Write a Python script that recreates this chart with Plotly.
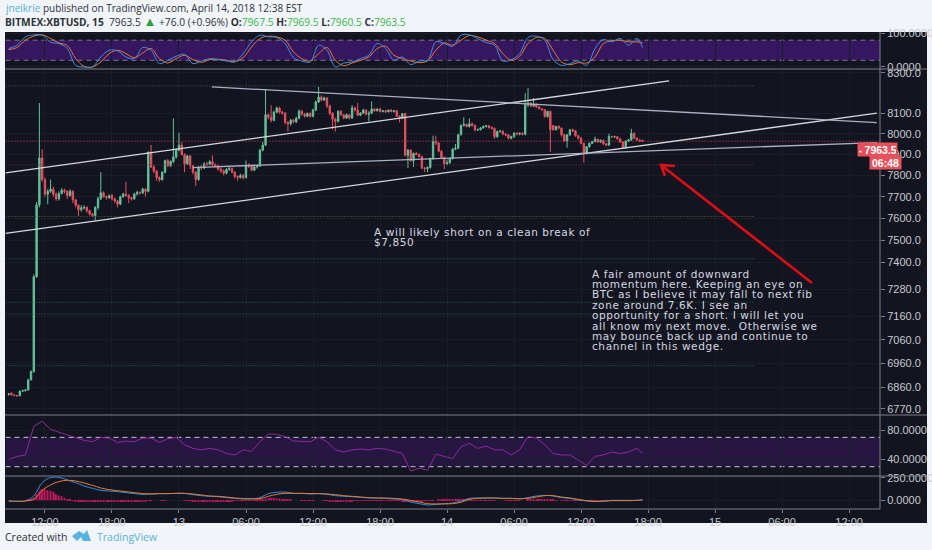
import pandas as pd
import plotly.graph_objects as go
from plotly.subplots import make_subplots

WIDTH = 932
HEIGHT = 550

opens = [
    6830, 6835, 6828, 6825, 6824, 6843, 6845, 6848, 6890, 6925,
    7335, 7662, 7883, 7780, 7712, 7725, 7735, 7710, 7690, 7715,
    7730, 7725, 7705, 7725, 7685, 7660, 7640, 7648, 7650, 7635,
    7620, 7612, 7650, 7690, 7718, 7700, 7695, 7705, 7690, 7680,
    7665, 7700, 7712, 7705, 7695, 7690, 7712, 7720, 7718, 7735,
    7725, 7910, 7840, 7820, 7790, 7780, 7815, 7870, 7845, 7866,
    7888, 7920, 7945, 7900, 7855, 7892, 7846, 7815, 7780, 7840,
    7835, 7855, 7852, 7865, 7850, 7845, 7830, 7822, 7810, 7828,
    7832, 7815, 7795, 7790, 7800, 7790, 7850, 7845, 7825, 7840,
    7845, 7920, 7945, 8092, 8080, 8065, 8105, 8125, 8105, 8100,
    8055, 8048, 8065, 8058, 8075, 8110, 8095, 8085, 8098, 8085,
    8115, 8155, 8180, 8165, 8175, 8135, 8100, 8070, 8060, 8109,
    8092, 8076, 8092, 8076, 8125, 8115, 8090, 8100, 8115, 8095,
    8100, 8120, 8112, 8120, 8108, 8112, 8107, 8115, 8108, 8112,
    8085, 8075, 8098, 7896, 7920, 7870, 7905, 7900, 7890, 7835,
    7832, 7838, 7880, 7962, 7955, 7915, 7885, 7855, 7860, 7880,
    7925, 7930, 7995, 8040, 8045, 8035, 8048, 8040, 8018, 8020,
    8028, 8035, 8038, 8030, 8025, 7985, 8010, 8012, 7998, 7994,
    7978, 7985, 8002, 7998, 8002, 7997, 8142, 8150, 8135, 8145,
    8130, 8122, 8117, 8084, 8109, 8040, 8019, 8035, 8027, 7994,
    7964, 7994, 8019, 8014, 7990, 7978, 7953, 7904, 7937, 7953,
    7961, 7973, 7960, 7968, 7950, 7945, 7986, 7984, 7985, 7975,
    7960, 7932, 7964, 7970, 8002, 7978, 7969, 7967.5,
]
closes = [
    6832, 6828, 6825, 6824, 6843, 6845, 6848, 6890, 6925, 7335,
    7662, 7883, 7780, 7712, 7725, 7735, 7710, 7690, 7715, 7730,
    7725, 7705, 7725, 7685, 7660, 7640, 7648, 7650, 7635, 7620,
    7612, 7650, 7690, 7718, 7700, 7695, 7705, 7690, 7680, 7665,
    7700, 7712, 7705, 7695, 7690, 7712, 7720, 7718, 7735, 7725,
    7910, 7840, 7820, 7790, 7780, 7815, 7870, 7845, 7866, 7888,
    7920, 7945, 7900, 7855, 7892, 7846, 7815, 7780, 7840, 7835,
    7855, 7852, 7865, 7850, 7845, 7830, 7822, 7810, 7828, 7832,
    7815, 7795, 7790, 7800, 7790, 7850, 7845, 7825, 7840, 7845,
    7920, 7945, 8092, 8080, 8065, 8105, 8125, 8105, 8100, 8055,
    8048, 8065, 8058, 8075, 8110, 8095, 8085, 8098, 8085, 8115,
    8155, 8180, 8165, 8175, 8135, 8100, 8070, 8060, 8109, 8092,
    8076, 8092, 8076, 8125, 8115, 8090, 8100, 8115, 8095, 8100,
    8120, 8112, 8120, 8108, 8112, 8107, 8115, 8108, 8112, 8085,
    8075, 8098, 7896, 7920, 7870, 7905, 7900, 7890, 7835, 7832,
    7838, 7880, 7962, 7955, 7915, 7885, 7855, 7860, 7880, 7925,
    7930, 7995, 8040, 8045, 8035, 8048, 8040, 8018, 8020, 8028,
    8035, 8038, 8030, 8025, 7985, 8010, 8012, 7998, 7994, 7978,
    7985, 8002, 7998, 8002, 7997, 8142, 8150, 8135, 8145, 8130,
    8122, 8117, 8084, 8109, 8019, 8019, 8035, 8027, 7994, 7964,
    7994, 8019, 8014, 7990, 7978, 7953, 7904, 7937, 7953, 7961,
    7973, 7960, 7968, 7950, 7945, 7986, 7984, 7985, 7975, 7960,
    7932, 7964, 7970, 8002, 7978, 7969, 7964, 7963.5,
]
highs = [
    6835, 6838, 6830, 6828, 6846, 6850, 6852, 6895, 6930, 7345,
    7675, 8150, 7925, 7790, 7735, 7780, 7745, 7720, 7725, 7740,
    7738, 7730, 7735, 7730, 7690, 7665, 7660, 7660, 7655, 7640,
    7625, 7655, 7700, 7815, 7725, 7705, 7710, 7712, 7695, 7685,
    7705, 7718, 7770, 7712, 7700, 7718, 7728, 7725, 7742, 7740,
    7915, 7945, 7850, 7825, 7795, 7820, 7875, 7878, 7872, 8075,
    7930, 8005, 7960, 7905, 7898, 7898, 7850, 7820, 7845, 7850,
    7862, 7865, 7872, 7895, 7858, 7852, 7838, 7828, 7835, 7845,
    7838, 7820, 7800, 7808, 7806, 7870, 7858, 7850, 7848, 7852,
    7928, 7960, 8220, 8098, 8140, 8112, 8132, 8132, 8112, 8105,
    8060, 8072, 8072, 8082, 8118, 8116, 8102, 8104, 8104, 8122,
    8162, 8230, 8188, 8182, 8180, 8142, 8105, 8078, 8115, 8115,
    8096, 8098, 8096, 8140, 8132, 8150, 8105, 8122, 8120, 8110,
    8158, 8126, 8124, 8126, 8115, 8116, 8118, 8120, 8114, 8116,
    8090, 8082, 8102, 7925, 7925, 7908, 7912, 7905, 7893, 7840,
    7842, 7885, 7990, 7990, 7958, 7920, 7890, 7875, 7885, 7930,
    7950, 8000, 8045, 8080, 8050, 8075, 8055, 8045, 8025, 8032,
    8040, 8042, 8042, 8035, 8030, 8015, 8018, 8016, 8002, 7998,
    7990, 8008, 8006, 8006, 8006, 8199, 8224, 8155, 8174, 8148,
    8135, 8125, 8120, 8112, 8112, 8042, 8038, 8040, 8030, 8000,
    7998, 8022, 8024, 8018, 7994, 7982, 7956, 7940, 7958, 7965,
    7986, 7976, 7972, 7970, 7955, 8000, 7990, 7990, 7988, 7978,
    7962, 7968, 7975, 8024, 8006, 7982, 7972, 7969.5,
]
lows = [
    6825, 6825, 6822, 6820, 6822, 6840, 6842, 6845, 6888, 6920,
    7330, 7650, 7770, 7700, 7665, 7718, 7700, 7680, 7682, 7710,
    7715, 7690, 7700, 7670, 7650, 7610, 7630, 7640, 7625, 7612,
    7605, 7590, 7640, 7685, 7695, 7685, 7690, 7682, 7672, 7650,
    7660, 7695, 7700, 7670, 7682, 7685, 7705, 7710, 7712, 7700,
    7720, 7835, 7810, 7775, 7770, 7775, 7810, 7840, 7840, 7860,
    7880, 7915, 7895, 7815, 7850, 7830, 7805, 7750, 7775, 7825,
    7830, 7845, 7848, 7845, 7838, 7822, 7812, 7800, 7805, 7822,
    7810, 7785, 7775, 7785, 7780, 7785, 7835, 7818, 7820, 7832,
    7840, 7915, 7940, 8070, 8055, 8060, 8100, 8098, 8092, 8045,
    8010, 8040, 8050, 8052, 8070, 8088, 8078, 8080, 8078, 8080,
    8110, 8150, 8158, 8160, 8125, 8090, 8020, 8010, 8055, 8088,
    8070, 8072, 8070, 8072, 8108, 8085, 8086, 8096, 8090, 8060,
    8095, 8106, 8108, 8104, 8104, 8102, 8104, 8104, 8104, 8080,
    8055, 8072, 7890, 7835, 7865, 7840, 7895, 7885, 7830, 7815,
    7815, 7832, 7875, 7945, 7910, 7880, 7830, 7850, 7855, 7875,
    7920, 7925, 7990, 8035, 8030, 8030, 8035, 8012, 8012, 8015,
    8024, 8030, 8025, 8020, 7975, 7980, 8005, 7992, 7988, 7972,
    7972, 7980, 7992, 7992, 7992, 7992, 8130, 8130, 8130, 8125,
    8118, 8112, 8078, 8078, 7912, 8014, 8015, 8022, 7985, 7960,
    7932, 7990, 8008, 7985, 7972, 7948, 7860, 7900, 7932, 7950,
    7958, 7955, 7955, 7945, 7940, 7940, 7980, 7980, 7970, 7955,
    7928, 7928, 7960, 7965, 7974, 7965, 7960, 7960.5,
]

# oscillators are read every third candle, plus the last one
stoch_k = [
    55, 65, 90, 96, 95, 74, 70, 55, 5, 0, 0, 30, 50, 48, 30, 25, 58, 50, 10, 20,
    32, 38, 10, 18, 25, 22, 18, 15, 40, 75, 95, 90, 88, 70, 28, 18, 15, 65, 50, 0,
    12, 15, 25, 35, 70, 55, 20, 30, 7, 18, 20, 75, 70, 62, 95, 96, 85, 73, 65, 18,
    22, 40, 88, 92, 80, 22, 5, 10, 18, 5, 55, 82, 75, 85, 65, 85, 58,
]
stoch_d = [
    52, 58, 80, 92, 96, 85, 72, 64, 25, 2, 0, 15, 40, 50, 40, 28, 42, 55, 25, 12,
    25, 35, 22, 14, 22, 23, 20, 16, 28, 60, 85, 92, 90, 80, 45, 25, 18, 40, 58, 20,
    4, 12, 20, 30, 55, 62, 35, 25, 18, 13, 18, 50, 72, 65, 80, 94, 90, 80, 70, 40,
    20, 32, 70, 88, 85, 50, 15, 7, 13, 12, 30, 70, 78, 80, 75, 75, 72,
]
rsi = [
    40, 44, 46, 85, 92, 81, 77, 73, 69, 66, 64, 70, 69, 63, 65, 64, 69, 69, 63, 68,
    70, 60, 55, 53, 55, 53, 48, 46, 53, 51, 64, 75, 74, 71, 65, 65, 64, 70, 64, 53,
    50, 53, 54, 53, 55, 54, 51, 48, 24, 28, 25, 47, 44, 41, 57, 62, 55, 58, 53, 53,
    46, 53, 71, 69, 60, 48, 46, 46, 39, 32, 44, 46, 50, 48, 50, 55, 48,
]
macd_line = [
    -7, -11, -7, 48, 198, 254, 257, 228, 198, 160, 134, 112, 104, 97, 86, 75, 67, 71, 75, 75,
    78, 78, 63, 52, 45, 41, 30, 22, 15, 15, 30, 75, 90, 93, 78, 78, 71, 75, 67, 52,
    45, 41, 34, 26, 26, 22, 15, 7, -19, -37, -52, -45, -37, -30, -7, 22, 26, 26, 26, 22,
    22, 15, 30, 48, 56, 48, 30, 22, 4, -7, -15, -7, 0, 0, 0, 0, 7,
]
macd_signal = [
    -7, -11, -7, 11, 112, 172, 209, 224, 216, 194, 168, 138, 119, 108, 97, 86, 75, 71, 75, 75,
    78, 78, 71, 60, 48, 45, 37, 26, 19, 19, 19, 45, 67, 78, 78, 78, 75, 75, 71, 63,
    52, 45, 37, 30, 26, 26, 22, 15, 0, -19, -37, -41, -41, -37, -22, 11, 22, 26, 26, 22,
    22, 19, 22, 37, 52, 52, 37, 26, 11, -4, -11, -11, -4, -4, -4, 0, 4,
]
macd_hist = [
    0, 0, 0, 0, 0, 0, 0, 5, 15, 30,
    67, 100, 123, 125, 112, 105, 97, 67, 55, 45,
    30, 15, 8, -3, -8, -10, -10, -12, -12, -12,
    -12, -12, -12, -12, -12, -12, -12, -12, -10, -10,
    -10, -10, -10, -10, -10, -10, -8, -8, -8, -8,
    -5, -3, 0, 0, 0, 3, 3, 0, 0, 0,
    0, 0, 0, -3, -5, -5, -8, -8, -8, -8,
    -8, -8, -8, -8, -8, -8, -8, -8, -8, -8,
    -8, -6, -6, -6, -5, -5, -3, -3, 5, 8,
    12, 16, 20, 24, 26, 26, 24, 20, 16, 12,
    8, 5, 0, 0, 0, -3, -6, -6, -6, -3,
    0, 0, 0, -3, -6, -8, -8, -8, -8, -8,
    -8, -8, -8, -8, -6, -6, -6, -6, -5, -5,
    -3, -3, -3, -3, -3, -3, -3, -3, -3, -3,
    -5, -8, -10, -10, -10, -10, -10, -8, -8, -6,
    -6, -5, -3, 0, 5, 8, 8, 8, 8, 8,
    8, 6, 6, 6, 5, 5, 3, 3, 3, 3,
    3, 3, 3, 3, 3, 0, 0, 0, -3, -3,
    -3, -3, -3, -3, 0, 0, 5, 8, 10, 12,
    12, 10, 8, 8, 5, 5, 3, 0, -3, -3,
    -5, -5, -5, -3, -3, -3, -3, -3, -3, -3,
    -3, -3, -3, -3, -3, -3, -3, -3, -3, 0,
    0, 0, 0, 0, 0, 0, 0, 0,
]

# drawings on the price pane
fib_prices = [8235, 7850, 7608, 7415, 7222, 7171, 6950]
fib_colors = ["#5b5f4e", "#6b2f3a", "#5f6b2a", "#2f6b3a", "#2a6b45", "#2a6b45", "#1f6b5a"]
trend_times = [
    ["2018-04-12 08:28", "2018-04-14 19:53"],
    ["2018-04-12 08:28", "2018-04-15 14:29"],
    ["2018-04-13 02:56", "2018-04-15 14:29"],
    ["2018-04-13 01:14", "2018-04-15 14:29"],
]
trend_prices = [[7812, 8260], [7530, 8100], [8230, 8054], [7837, 7957]]
trend_colors = ["#d5d8dd", "#d5d8dd", "#aab0c4", "#aab0c4"]

tick_times = [
    "2018-04-12 12:00", "2018-04-12 18:00", "2018-04-13 00:00", "2018-04-13 06:00",
    "2018-04-13 12:00", "2018-04-13 18:00", "2018-04-14 00:00", "2018-04-14 06:00",
    "2018-04-14 12:00", "2018-04-14 18:00", "2018-04-15 00:00", "2018-04-15 06:00",
    "2018-04-15 12:00",
]
tick_labels = ["12:00", "18:00", "13", "06:00", "12:00", "18:00", "14", "06:00",
               "12:00", "18:00", "15", "06:00", "12:00"]
price_ticks = [8300, 8100, 8000, 7900, 7800, 7700, 7600, 7500, 7400, 7280, 7160, 7060, 6960, 6860, 6770]

note_short = ["A will likely short on a clean break of", "$7,850"]
note_long = [
    "A fair amount of downward",
    "momentum here. Keeping an eye on",
    "BTC as I believe it may fall to next fib",
    "zone around 7.6K. I see an",
    "opportunity for a short. I will let you",
    "all know my next move.&nbsp; Otherwise we",
    "may bounce back up and continue to",
    "channel in this wedge.",
]

BG = "#12151f"
PAGE = "#f1f4f9"
FRAME = "#7d8087"
GRID = "#191d28"
AXIS_TEXT = "#c6c9cf"
UP = "#63c29a"
DOWN = "#e9505f"
X_RANGE = ["2018-04-12 08:28", "2018-04-15 14:46"]


def px_x(x):
    return x / WIDTH


def px_y(y):
    return 1 - y / HEIGHT


candle_times = pd.date_range("2018-04-12 08:45", periods=len(closes), freq="15min")
osc_times = list(candle_times[::3]) + [candle_times[-1]]

fig = make_subplots(rows=4, cols=1, shared_xaxes=True, vertical_spacing=0)

# stochastic pane
fig.add_trace(go.Scatter(x=osc_times, y=stoch_d, mode="lines", line=dict(color="#e5793a", width=1, shape="spline")), row=1, col=1)
fig.add_trace(go.Scatter(x=osc_times, y=stoch_k, mode="lines", line=dict(color="#3f8fe0", width=1, shape="spline")), row=1, col=1)

# price pane
for price, color in zip(fib_prices, fib_colors):
    fig.add_trace(go.Scatter(x=[X_RANGE[0], "2018-04-15 03:35"], y=[price, price], mode="lines",
                             line=dict(color=color, width=1, dash="1px,2px")), row=2, col=1)
fig.add_trace(go.Scatter(x=X_RANGE, y=[closes[-1], closes[-1]], mode="lines",
                         line=dict(color="#d8404f", width=1, dash="1px,2px")), row=2, col=1)
fig.add_trace(go.Candlestick(x=candle_times, open=opens, high=highs, low=lows, close=closes,
                             increasing=dict(line=dict(color=UP, width=1), fillcolor=UP),
                             decreasing=dict(line=dict(color=DOWN, width=1), fillcolor=DOWN)), row=2, col=1)
for times, prices, color in zip(trend_times, trend_prices, trend_colors):
    fig.add_trace(go.Scatter(x=times, y=prices, mode="lines", line=dict(color=color, width=1.3)), row=2, col=1)

# rsi pane
fig.add_trace(go.Scatter(x=osc_times, y=rsi, mode="lines", line=dict(color="#8e2a9e", width=1)), row=3, col=1)

# macd pane
fig.add_trace(go.Bar(x=candle_times, y=macd_hist, marker=dict(color="#c2185b", line_width=0)), row=4, col=1)
fig.add_trace(go.Scatter(x=osc_times, y=macd_line, mode="lines", line=dict(color="#2f8fd8", width=1, shape="spline")), row=4, col=1)
fig.add_trace(go.Scatter(x=osc_times, y=macd_signal, mode="lines", line=dict(color="#e5793a", width=1, shape="spline")), row=4, col=1)

shapes = [
    dict(type="rect", xref="paper", yref="paper", x0=px_x(5), x1=px_x(927), y0=px_y(523), y1=px_y(32),
         fillcolor=BG, line_width=0, layer="below"),
    # purple bands
    dict(type="rect", xref="x", yref="y", x0=X_RANGE[0], x1=X_RANGE[1], y0=20, y1=80,
         fillcolor="#371660", line_width=0, layer="below"),
    dict(type="rect", xref="x3", yref="y3", x0=X_RANGE[0], x1=X_RANGE[1], y0=30, y1=70,
         fillcolor="#261641", line_width=0, layer="below"),
]
for yref, level, color in [("y", 80, "#7f7390"), ("y", 20, "#7f7390"), ("y3", 70, "#c8c2d6"), ("y3", 30, "#c8c2d6")]:
    xref = "x" if yref == "y" else "x3"
    shapes.append(dict(type="line", xref=xref, yref=yref, x0=X_RANGE[0], x1=X_RANGE[1], y0=level, y1=level,
                       line=dict(color=color, width=1, dash="5px,4px"), layer="below"))
# pane frame
for y in [69, 415, 476, 509]:
    x1 = 927 if y != 509 else 880
    shapes.append(dict(type="line", xref="paper", yref="paper", x0=px_x(5), x1=px_x(x1), y0=px_y(y), y1=px_y(y),
                       line=dict(color=FRAME, width=1)))
shapes.append(dict(type="line", xref="paper", yref="paper", x0=px_x(880), x1=px_x(880), y0=px_y(32), y1=px_y(509),
                   line=dict(color=FRAME, width=1)))
# red arrow drawn on the chart
shapes.append(dict(type="path", xref="paper", yref="paper",
                   path=f"M{px_x(812)},{px_y(283)} L{px_x(661)},{px_y(165)} M{px_x(675)},{px_y(166)} "
                        f"L{px_x(661)},{px_y(165)} L{px_x(665)},{px_y(176)}",
                   line=dict(color="#dc0f14", width=2.6)))
# logo in the footer
shapes.append(dict(type="path", xref="paper", yref="paper",
                   path=f"M{px_x(72)},{px_y(536)} L{px_x(79)},{px_y(531)} L{px_x(84)},{px_y(534)} L{px_x(87)},{px_y(530)} "
                        f"L{px_x(91)},{px_y(541)} L{px_x(83)},{px_y(541)} L{px_x(81)},{px_y(537)} L{px_x(77)},{px_y(541)} Z",
                   fillcolor="#56b3e2", line_width=0))

annotations = []


def add_text(x, y, text, size, color, family="Open Sans", anchor="left"):
    annotations.append(dict(xref="paper", yref="paper", x=px_x(x), y=px_y(y), text=text, showarrow=False,
                            xanchor=anchor, yanchor="middle", align="left",
                            font=dict(family=family, size=size, color=color)))


add_text(3, 8, '<span style="color:#4fb0de">jneikrie</span> published on TradingView.com, April 14, 2018 12:38 EST', 10, "#2d3138")
add_text(3, 21, '<b>BITMEX:XBTUSD, 15</b>&nbsp; 7963.5 <span style="color:#2e9e3f;font-size:13px">▲</span> +76.0 (+0.96%) '
                '<b>O:</b><span style="color:#35b84b">7967.5</span> <b>H:</b><span style="color:#35b84b">7969.5</span> '
                '<b>L:</b><span style="color:#35b84b">7960.5</span> <b>C:</b><span style="color:#35b84b">7963.5</span>', 10.2, "#2d3138")
add_text(3, 537, "Created with", 10.5, "#2d3138")
add_text(95, 537, "TradingView", 10.5, "#59b3df")

# the notes are wide and tightly leaded in the picture
for i, line in enumerate(note_short):
    add_text(372, 232 + i * 10.2, f'<span style="letter-spacing:0.6px">{line}</span>', 10.5, "#d5d8e0", family="DejaVu Sans")
for i, line in enumerate(note_long):
    add_text(590, 273.5 + i * 10.4, f'<span style="letter-spacing:0.6px">{line}</span>', 10.5, "#d5d8e0", family="DejaVu Sans")

# last price and countdown tags
annotations.append(dict(xref="paper", yref="paper", x=px_x(898), y=px_y(141.5), text="<b>- 7963.5</b>", showarrow=False,
                        width=37, height=11, bgcolor="#e8505b", font=dict(family="Liberation Sans", size=10.5, color="#ffffff")))
annotations.append(dict(xref="paper", yref="paper", x=px_x(902), y=px_y(154.5), text="<b>06:48</b>", showarrow=False,
                        width=29, height=11, bgcolor="#e8505b", font=dict(family="Liberation Sans", size=10.5, color="#ffffff")))

fig.update_layout(
    width=WIDTH, height=HEIGHT, margin=dict(l=0, r=0, t=0, b=0), showlegend=False,
    paper_bgcolor=PAGE, plot_bgcolor=BG, shapes=shapes, annotations=annotations,
    bargap=0.45, hovermode=False,
)

fig.update_xaxes(domain=[px_x(5.5), px_x(880)], range=X_RANGE, tickmode="array", tickvals=tick_times, ticktext=tick_labels,
                 showgrid=True, gridcolor=GRID, gridwidth=1, zeroline=False, showline=False, ticks="",
                 showticklabels=False, rangeslider_visible=False, type="date", automargin=False)
fig.update_xaxes(showticklabels=True, ticks="outside", ticklen=3, tickcolor=FRAME,
                 tickfont=dict(family="Liberation Sans", size=11, color=AXIS_TEXT), row=4, col=1)

axis_font = dict(family="Liberation Sans", size=11, color=AXIS_TEXT)
fig.update_yaxes(side="right", showgrid=True, gridcolor=GRID, zeroline=False, showline=False, ticks="outside",
                 ticklen=4, tickcolor=FRAME, tickfont=axis_font, automargin=False)
fig.update_yaxes(domain=[px_y(69), px_y(32)], range=[-6, 104.5], tickvals=[100, 0], ticktext=["100.0000", "0.0000"], row=1, col=1)
fig.update_yaxes(domain=[px_y(415), px_y(69)], type="log", range=[3.82898, 3.92012], tickvals=price_ticks,
                 ticktext=[f"{p:.1f}" for p in price_ticks], row=2, col=1)
fig.update_yaxes(domain=[px_y(476), px_y(415)], range=[17.3, 100.5], tickvals=[80, 40], ticktext=["80.0000", "40.0000"], row=3, col=1)
fig.update_yaxes(domain=[px_y(509), px_y(476)], range=[-97, 272], tickvals=[250, 0], ticktext=["250.0000", "0.0000"], row=4, col=1)

fig.write_html("out.html", config=dict(displayModeBar=False),
               post_script="document.body.style.margin='0';document.body.style.overflow='hidden';")
